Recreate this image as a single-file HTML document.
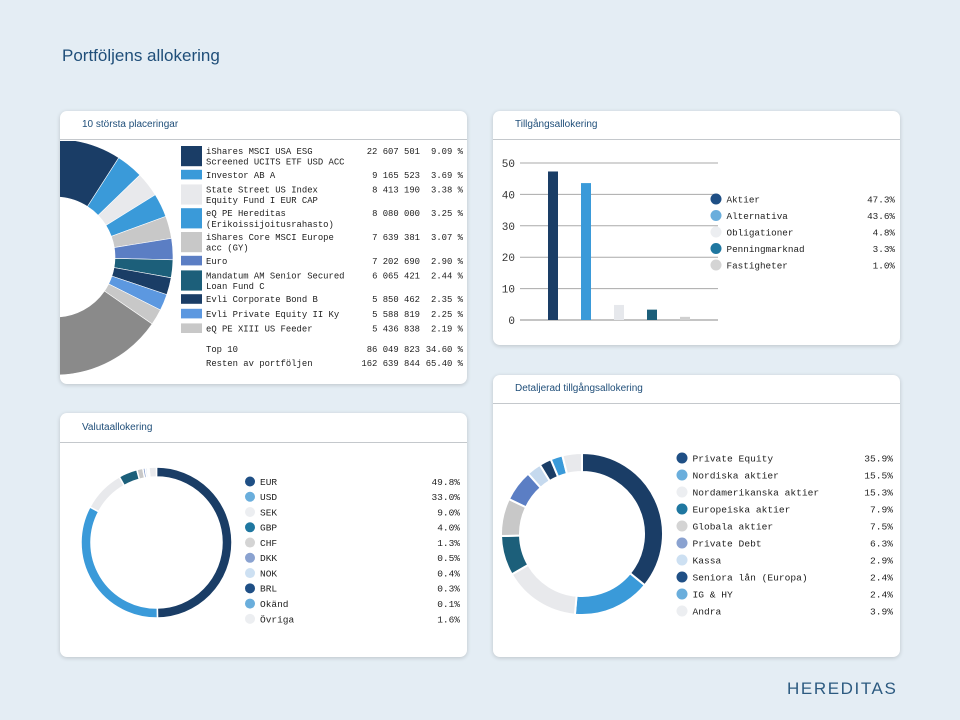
<!DOCTYPE html>
<html><head><meta charset="utf-8">
<style>
*{margin:0;padding:0;box-sizing:border-box}
body{width:960px;height:720px;background:#e4edf4;position:relative;overflow:hidden;font-family:"Liberation Sans",sans-serif}
.title{position:absolute;left:62px;top:46px;font-size:17px;color:#1f4e79}
.card{position:absolute;background:#fff;border-radius:7px;box-shadow:0 1px 4px rgba(0,0,0,.18);overflow:hidden}
.hdr{position:absolute;left:0;right:0;top:0;border-bottom:1px solid #c4c8cc;font-size:10px;color:#1f4e79;padding-left:22px}
.logo{position:absolute;left:787px;top:679px;font-size:17px;letter-spacing:1.6px;color:#2c5a80;font-family:"Liberation Sans",sans-serif}
svg text{font-family:"Liberation Mono",monospace}
</style></head><body>
<div class="title">Portföljens allokering</div>

<div class="card" id="c1" style="left:60px;top:111px;width:407px;height:273px">
  <div class="hdr" style="height:29px;line-height:28px">10 största placeringar</div>
  <svg id="s1" width="407" height="273" style="position:absolute;left:0;top:0"></svg>
</div>

<div class="card" style="left:493px;top:111px;width:407px;height:234px">
  <div class="hdr" style="height:29px;line-height:28px">Tillgångsallokering</div>
  <svg id="s2" width="407" height="234" style="position:absolute;left:0;top:0"></svg>
</div>

<div class="card" style="left:60px;top:413px;width:407px;height:244px">
  <div class="hdr" style="height:30px;line-height:29px">Valutaallokering</div>
  <svg id="s3" width="407" height="244" style="position:absolute;left:0;top:0"></svg>
</div>

<div class="card" style="left:493px;top:375px;width:407px;height:282px">
  <div class="hdr" style="height:29px;line-height:28px">Detaljerad tillgångsallokering</div>
  <svg id="s4" width="407" height="282" style="position:absolute;left:0;top:0"></svg>
</div>

<div class="logo">HEREDITAS</div>

<script>
// ---- Top holdings data ----
const holdNames = [["iShares MSCI USA ESG","Screened UCITS ETF USD ACC"],["Investor AB A"],["State Street US Index","Equity Fund I EUR CAP"],["eQ PE Hereditas","(Erikoissijoitusrahasto)"],["iShares Core MSCI Europe","acc (GY)"],["Euro"],["Mandatum AM Senior Secured","Loan Fund C"],["Evli Corporate Bond B"],["Evli Private Equity II Ky"],["eQ PE XIII US Feeder"]];
const holdAmounts = ["22 607 501","9 165 523","8 413 190","8 080 000","7 639 381","7 202 690","6 065 421","5 850 462","5 588 819","5 436 838"];
const holdPct = [9.09,3.69,3.38,3.25,3.07,2.90,2.44,2.35,2.25,2.19];
const holdColors = ["#1a3d66","#3a9ad9","#e8e9ec","#3a9ad9","#c8c8c8","#5b7ec4","#1c5f7a","#1a3d66","#5c98e0","#c8c8c8"];
const restPct = 65.40;
const totalsLabels = ["Top 10","Resten av portföljen"];
const totalsAmounts = ["86 049 823","162 639 844"];
const totalsPct = [34.60,65.40];

// ---- Asset allocation ----
const assetCats = ["Aktier","Alternativa","Obligationer","Penningmarknad","Fastigheter"];
const assetVals = [47.3,43.6,4.8,3.3,1.0];
const assetBarColors = ["#1a3d66","#3a9ad9","#e6e8ec","#1c5f7a","#d0d0d0"];
const assetDotColors = ["#1f4f85","#6aaedc","#eceef1","#1f77a0","#d4d4d4"];
const yTicks = [0,10,20,30,40,50];

// ---- Currency ----
const curCats = ["EUR","USD","SEK","GBP","CHF","DKK","NOK","BRL","Okänd","Övriga"];
const curVals = [49.8,33.0,9.0,4.0,1.3,0.5,0.4,0.3,0.1,1.6];
const curColors = ["#1a3d66","#3a9ad9","#e8e9ec","#1c5f7a","#c8c8c8","#7d96c9","#c5d9ee","#1a3d66","#5ea9dd","#e8e9ec"];
const curDots = ["#1f4f85","#6aaedc","#eceef1","#1f77a0","#d4d4d4","#8aa2d0","#cde0f2","#1f4f85","#6aaedc","#eceef1"];

// ---- Detailed ----
const detCats = ["Private Equity","Nordiska aktier","Nordamerikanska aktier","Europeiska aktier","Globala aktier","Private Debt","Kassa","Seniora lån (Europa)","IG & HY","Andra"];
const detVals = [35.9,15.5,15.3,7.9,7.5,6.3,2.9,2.4,2.4,3.9];
const detColors = ["#1a3d66","#3a9ad9","#e8e9ec","#1c5f7a","#c8c8c8","#5b7ec4","#c5d9ee","#1a3d66","#3a9ad9","#e8e9ec"];
const detDots = ["#1f4f85","#6aaedc","#eceef1","#1f77a0","#d4d4d4","#8aa2d0","#cde0f2","#1f4f85","#6aaedc","#eceef1"];

const NS="http://www.w3.org/2000/svg";
function mk(parent,tag,attrs){const e=document.createElementNS(NS,tag);for(const k in attrs)e.setAttribute(k,attrs[k]);parent.appendChild(e);return e;}
function arcPath(cx,cy,ro,ri,a0,a1){
  const p=(r,a)=>[cx+r*Math.sin(a),cy-r*Math.cos(a)];
  const large=(a1-a0)>Math.PI?1:0;
  const [x0,y0]=p(ro,a0),[x1,y1]=p(ro,a1),[x2,y2]=p(ri,a1),[x3,y3]=p(ri,a0);
  return `M${x0},${y0}A${ro},${ro} 0 ${large} 1 ${x1},${y1}L${x2},${y2}A${ri},${ri} 0 ${large} 0 ${x3},${y3}Z`;
}
function donut(svg,vals,colors,cx,cy,ro,ri,gap,name){
  const tot=vals.reduce((a,b)=>a+b,0);let a=0;
  vals.forEach((v,i)=>{const a1=a+v/tot*2*Math.PI;
    const p=mk(svg,'path',{d:arcPath(cx,cy,ro,ri,a,a1),fill:colors[i],stroke:'#fff','stroke-width':gap});
    
    
    a=a1;});
}
function legend(svg,cats,vals,dots,x0,y0,dy,pctX,r,fs,name){
  cats.forEach((c,i)=>{const y=y0+i*dy;
    const d=mk(svg,'circle',{cx:x0,cy:y,r:r,fill:dots[i]});
    
    
    const t=mk(svg,'text',{x:x0+r+5,y:y+fs*0.36,'font-size':fs,fill:'#222'});t.textContent=c;
    
    
    const p=mk(svg,'text',{x:pctX,y:y+fs*0.36,'font-size':fs,fill:'#222','text-anchor':'end'});p.textContent=vals[i].toFixed(1)+'%';
    
    
  });
}

// Chart 1
(function(){
  const s=document.getElementById('s1');
  const defs=mk(s,'defs',{});const cp=mk(defs,'clipPath',{id:'cp1'});mk(cp,'rect',{x:0,y:30,width:407,height:243});
  const g=mk(s,'g',{'clip-path':'url(#cp1)'});
  donut(g,holdPct.concat([restPct]),holdColors.concat(['#8a8a8a']),-5,146,118,60,0.6,'holding');
  let y=35;const fs=8.9,lh=10.6;
  holdNames.forEach((lines,i)=>{
    const h=lines.length*lh;
    const sw=mk(s,'rect',{x:121,y:y,width:21,height:h-1,fill:holdColors[i]});
    
    
    lines.forEach((ln,j)=>{const t=mk(s,'text',{x:146,y:y+8+j*lh,'font-size':fs,fill:'#222'});t.textContent=ln;
      
      });
    const a=mk(s,'text',{x:360,y:y+8,'font-size':fs,fill:'#222','text-anchor':'end'});a.textContent=holdAmounts[i];
    
    
    const p=mk(s,'text',{x:403,y:y+8,'font-size':fs,fill:'#222','text-anchor':'end'});p.textContent=holdPct[i].toFixed(2)+' %';
    
    
    y+=h+(lines.length>1?2.6:4);
  });
  totalsLabels.forEach((l,i)=>{const yy=241+i*14;
    const t=mk(s,'text',{x:146,y:yy,'font-size':fs,fill:'#222'});t.textContent=l;
    
    
    const a=mk(s,'text',{x:360,y:yy,'font-size':fs,fill:'#222','text-anchor':'end'});a.textContent=totalsAmounts[i];
    
    
    const p=mk(s,'text',{x:403,y:yy,'font-size':fs,fill:'#222','text-anchor':'end'});p.textContent=totalsPct[i].toFixed(2)+' %';
    
    
  });
})();

// Chart 2 bar
(function(){
  const s=document.getElementById('s2');
  const y=v=>209-v*3.14;
  const x=i=>60+i*33;
  yTicks.forEach(t=>{
    const l=mk(s,'line',{x1:27,x2:225,y1:y(t),y2:y(t),stroke:t===0?'#888':'#aaa','stroke-width':1});
    
    
    const tx=mk(s,'text',{x:22,y:y(t)+4,'font-size':11,fill:'#333','text-anchor':'end'});tx.textContent=t;
    
    
  });
  assetVals.forEach((v,i)=>{
    const r=mk(s,'rect',{x:x(i)-5,y:y(v),width:10,height:y(0)-y(v),fill:assetBarColors[i]});
    
    
  });
  legend(s,assetCats,assetVals,assetDotColors,223,88,16.5,402,5.5,9.3,'asset');
})();

// Chart 3 currency
(function(){
  const s=document.getElementById('s3');
  donut(s,curVals,curColors,96.5,129.5,75.5,65.5,1.5,'currency');
  legend(s,curCats,curVals,curDots,190,68.5,15.26,400,5,9.5,'currency');
})();

// Chart 4 detailed
(function(){
  const s=document.getElementById('s4');
  donut(s,detVals,detColors,89,159,81,62,2,'detailed');
  legend(s,detCats,detVals,detDots,189,83,17,400,5.5,9.6,'detailed');
})();
</script>
</body></html>
